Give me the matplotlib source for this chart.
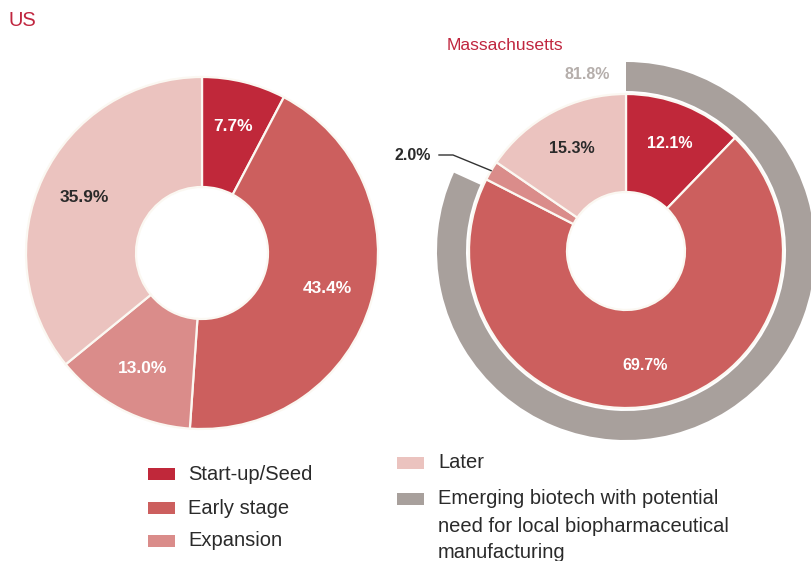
import numpy as np
import matplotlib.pyplot as plt
from matplotlib.patches import Rectangle

plt.rcParams['font.family'] = ['Liberation Sans', 'DejaVu Sans']

# dados
estagios = ['Start-up/Seed', 'Early stage', 'Expansion', 'Later']
us_pct = [7.7, 43.4, 13.0, 35.9]
ma_pct = [12.1, 69.7, 2.0, 15.3]
emergente_pct = [81.8, 18.2]
rotulo_emergente = 'Emerging biotech with potential\nneed for local biopharmaceutical\nmanufacturing'

cores = ['#C0283A', '#CC5F5E', '#DA8C8A', '#EBC3BF']
cinza = '#A8A09C'
vermelho_titulo = '#C0263F'
texto_escuro = '#2A2A2A'
borda = '#FBF8F2'

W, H = 812, 561


def py(y):
    # converte y de pixel (topo) para coordenada do eixo
    return H - y


def rosca(ax, valores, centro, raio, largura, cor_rotulos, tam):
    wedges, _, autot = ax.pie(valores, center=centro, radius=raio, startangle=90,
                              counterclock=False, colors=cores,
                              autopct=lambda p: '', pctdistance=0.74,
                              wedgeprops=dict(width=largura, edgecolor=borda, linewidth=1.6),
                              textprops=dict(fontsize=tam, fontweight='bold'))
    for t, v, c in zip(autot, valores, cor_rotulos):
        if c is None:
            continue
        t.set_text(f'{v:.1f}%')
        t.set_color(c)
    return wedges


def main():
    fig = plt.figure(figsize=(W / 100, H / 100), dpi=100)
    ax = fig.add_axes([0, 0, 1, 1])

    # US
    c_us = (202, py(253))
    rosca(ax, us_pct, c_us, 176, 110, ['white', 'white', 'white', texto_escuro], 12.5)
    ax.text(9, py(20), 'US', fontsize=14.5, color=vermelho_titulo, va='center', ha='left')

    # Massachusetts - anel cinza externo
    c_ma = (626, py(251))
    ax.pie(emergente_pct, center=c_ma, radius=189, startangle=90, counterclock=False,
           colors=[cinza, 'none'], wedgeprops=dict(width=29, linewidth=0))
    ang = np.deg2rad(90 + 12.5)
    ax.text(c_ma[0] + 181 * np.cos(ang), c_ma[1] + 181 * np.sin(ang),
            f'{emergente_pct[0]:.1f}%', fontsize=11.5, fontweight='bold',
            color='#B5AEAB', ha='center', va='center')

    wedges = rosca(ax, ma_pct, c_ma, 157, 98, ['white', 'white', None, texto_escuro], 11.5)
    ax.text(447, py(45), 'Massachusetts', fontsize=12.6, color=vermelho_titulo,
            va='center', ha='left')

    # rotulo 2.0% com linha
    w = wedges[2]
    meio = np.deg2rad((w.theta1 + w.theta2) / 2)
    px = c_ma[0] + 157 * np.cos(meio)
    pyy = c_ma[1] + 157 * np.sin(meio)
    ax.text(413, py(155), f'{ma_pct[2]:.1f}%', fontsize=11.5, fontweight='bold',
            color=texto_escuro, ha='center', va='center')
    ax.plot([439, 453, px], [py(155), py(155), pyy], color='#333333', lw=1.0)

    # legenda
    esq = [(estagios[0], cores[0], 474), (estagios[1], cores[1], 508), (estagios[2], cores[2], 541)]
    for nome, cor, y in esq:
        ax.add_patch(Rectangle((148, py(y) - 6), 27, 12, color=cor, lw=0))
        ax.text(188, py(y), nome, fontsize=14.5, color=texto_escuro, va='center', ha='left')

    ax.add_patch(Rectangle((397, py(463) - 6), 27, 12, color=cores[3], lw=0))
    ax.text(438, py(463), estagios[3], fontsize=14.5, color=texto_escuro, va='center', ha='left')
    ax.add_patch(Rectangle((397, py(499) - 6), 27, 12, color=cinza, lw=0))
    for linha, y in zip(rotulo_emergente.split('\n'), [499, 527, 553]):
        ax.text(438, py(y), linha, fontsize=14.5, color=texto_escuro, va='center', ha='left')

    ax.set_xlim(0, W)
    ax.set_ylim(0, H)
    ax.set_aspect('equal')
    ax.axis('off')
    fig.savefig('out.png', dpi=100, facecolor='white')


if __name__ == "__main__":
    main()
